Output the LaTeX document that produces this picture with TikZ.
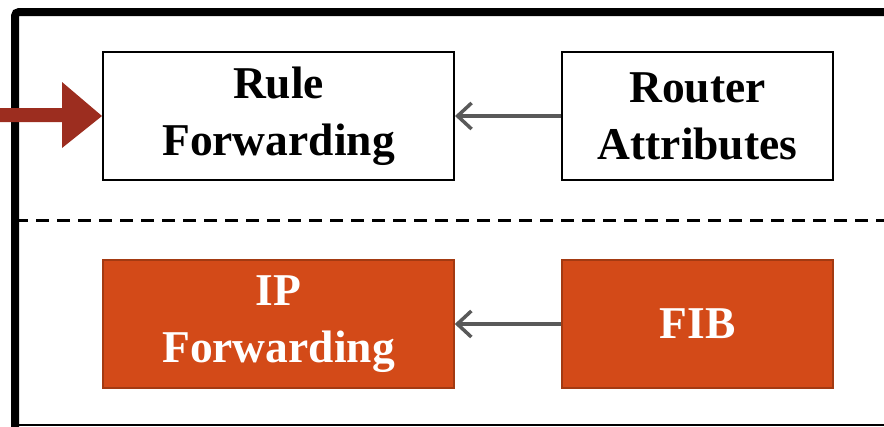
\documentclass[tikz,border=0pt]{standalone}
\usepackage{fontspec}
\setmainfont{Liberation Serif}
\usepackage{tikz}
\usetikzlibrary{arrows.meta, positioning, calc}
\definecolor{fwdorange}{HTML}{D34A18}
\definecolor{fwdedge}{HTML}{A33A12}
\definecolor{fwdred}{HTML}{9C2D1F}
\definecolor{fwdgray}{HTML}{595959}
\tikzset{
  ctrlbox/.style={draw=black, line width=2pt, fill=white,
                  minimum width=351pt, minimum height=128pt, align=center,
                  font=\fontsize{45.5}{57}\selectfont\bfseries},
  databox/.style={ctrlbox, draw=fwdedge, fill=fwdorange, text=white, line width=1.5pt},
  narrow/.style={minimum width=271pt},
  feed/.style={-{Straight Barb[length=14pt,width=26pt,line width=3.5pt]},
               draw=fwdgray, line width=3.5pt}
}

\begin{document}
\begin{tikzpicture}[x=1pt,y=-1pt]
        \useasboundingbox (0,0) rectangle (884,426);
        \clip (0,0) rectangle (884,426);

        % outer frame, runs past the right and bottom edge
        \draw[line width=8pt, rounded corners=4pt] (15,440) -- (15,12) -- (900,12);
        \draw[line width=1.2pt] (15,425) -- (900,425);

        \node[ctrlbox] (rule) at (278.5,116) {Rule\\Forwarding};
        \node[ctrlbox, narrow] (attr) at (697.5,116) {Router\\Attributes};

        \draw[dashed, dash pattern=on 13pt off 8pt, line width=3pt] (15,220) -- (900,220);

        \node[databox] (ipfwd) at (278.5,324) {IP\\Forwarding};
        \node[databox, narrow] (fib) at (697.5,324) {FIB};

        \draw[feed] (attr.west) -- (rule.east);
        \draw[feed] (fib.west) -- (ipfwd.east);

        % incoming rule
        \coordinate (in) at (-2,115);
        \fill[fwdred] ($(in)+(0,-7)$) -- (62,108) -- (62,82) -- (rule.west) -- (62,148) -- (62,122) -- ($(in)+(0,7)$) -- cycle;
      \end{tikzpicture}
\end{document}
